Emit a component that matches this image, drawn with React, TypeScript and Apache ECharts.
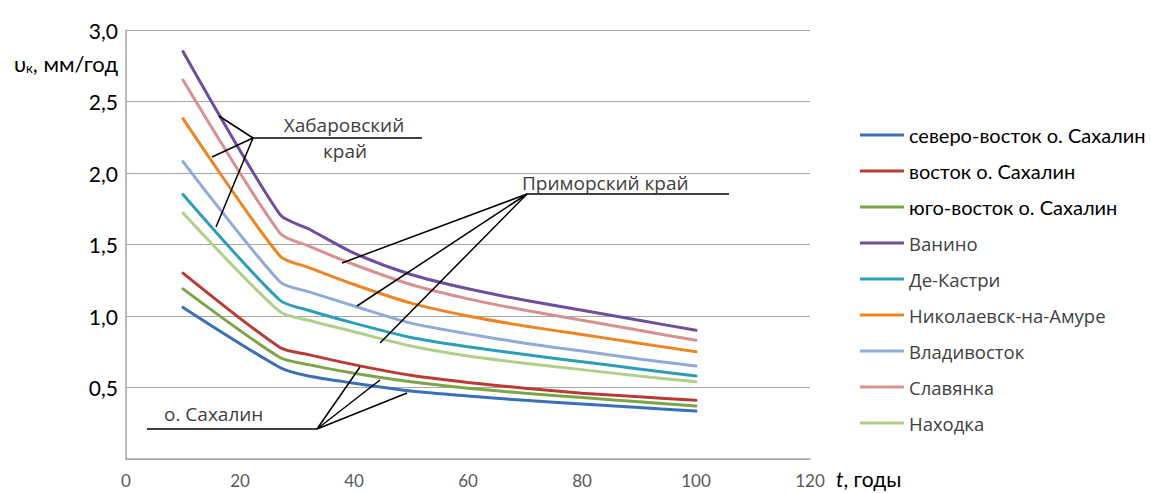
import React, { useEffect, useRef } from "react";
import * as echarts from "echarts";

const years = [10, 27, 32, 40, 50, 60, 70, 80, 90, 100];
const xTicks = [0, 20, 40, 60, 80, 100, 120];

const seriesNames = [
  "северо-восток о. Сахалин",
  "восток о. Сахалин",
  "юго-восток о. Сахалин",
  "Ванино",
  "Де-Кастри",
  "Николаевск-на-Амуре",
  "Владивосток",
  "Славянка",
  "Находка",
];

const severoVostok = [1.06, 0.64, 0.58, 0.53, 0.475, 0.44, 0.41, 0.385, 0.36, 0.335];
const vostok = [1.3, 0.78, 0.73, 0.66, 0.585, 0.535, 0.495, 0.46, 0.435, 0.41];
const yugoVostok = [1.19, 0.71, 0.66, 0.6, 0.54, 0.495, 0.46, 0.43, 0.4, 0.37];
const vanino = [2.85, 1.71, 1.61, 1.44, 1.29, 1.19, 1.11, 1.04, 0.97, 0.9];
const deKastri = [1.85, 1.11, 1.04, 0.95, 0.85, 0.785, 0.73, 0.68, 0.63, 0.58];
const nikolaevsk = [2.38, 1.42, 1.34, 1.22, 1.09, 1.0, 0.93, 0.87, 0.81, 0.75];
const vladivostok = [2.08, 1.24, 1.17, 1.07, 0.95, 0.875, 0.81, 0.755, 0.7, 0.65];
const slavyanka = [2.65, 1.58, 1.49, 1.36, 1.22, 1.12, 1.04, 0.97, 0.9, 0.83];
const nakhodka = [1.72, 1.03, 0.97, 0.89, 0.79, 0.72, 0.67, 0.625, 0.58, 0.54];

const seriesValues = [
  severoVostok,
  vostok,
  yugoVostok,
  vanino,
  deKastri,
  nikolaevsk,
  vladivostok,
  slavyanka,
  nakhodka,
];

const colors = [
  "#3A70B8",
  "#BA3A35",
  "#7BA646",
  "#6F4E9E",
  "#2C9FB6",
  "#EE8422",
  "#8FABD8",
  "#D9918F",
  "#B0D08A",
];

const FONT = "Lato";
const ANN = "Open Sans";

export default function App() {
  const ref = useRef<HTMLDivElement>(null);
  useEffect(() => {
    if (!ref.current) return;
    const chart = echarts.init(ref.current, undefined, { renderer: "svg" });
    const line = (pts: number[][]) => ({
      type: "polyline",
      shape: { points: pts },
      style: { stroke: "#000", lineWidth: 1.5, fill: "none" },
      z: 100,
    });
    const annText = (x: number, y: number, text: string, align = "left") => ({
      type: "text",
      x,
      y,
      style: {
        text,
        fill: "#404040",
        font: `19px "${ANN}"`,
        textAlign: align,
        textVerticalAlign: "middle",
      },
      z: 100,
    });
    const option: any = {
      animation: false,
      backgroundColor: "#fff",
      color: colors,
      grid: { left: 126, right: 341, top: 30, bottom: 34, containLabel: false },
      xAxis: {
        type: "value",
        min: 0,
        max: 120,
        interval: 20,
        axisLine: { show: true, lineStyle: { color: "#A6A6A6", width: 1.5 } },
        axisTick: { show: false },
        splitLine: { show: false },
        axisLabel: {
          margin: 13,
          color: "#595959",
          fontSize: 17,
          fontFamily: FONT,
          formatter: (v: number) => (xTicks.includes(v) ? String(v) : ""),
        },
      },
      yAxis: {
        type: "value",
        min: 0,
        max: 3,
        interval: 0.5,
        axisLine: { show: true, lineStyle: { color: "#A6A6A6", width: 1.5 } },
        axisTick: { show: false },
        splitLine: { show: true, lineStyle: { color: "#A6A6A6", width: 1 } },
        axisLabel: {
          margin: 8,
          color: "#000",
          fontSize: 21,
          fontFamily: FONT,
          formatter: (v: number) => (v === 0 ? "" : v.toFixed(1).replace(".", ",")),
        },
      },
      legend: {
        orient: "vertical",
        left: 855,
        top: 120,
        itemWidth: 44,
        itemHeight: 3,
        itemGap: 16,
        icon: "rect",
        data: seriesNames,
        formatter: (name: string) =>
          seriesNames.indexOf(name) < 3 ? `{a|${name}}` : `{b|${name}}`,
        textStyle: {
          lineHeight: 20,
          rich: {
            a: { fontSize: 20, color: "#000", fontFamily: FONT, lineHeight: 20 },
            b: { fontSize: 18.5, color: "#404040", fontFamily: ANN, lineHeight: 20 },
          },
        },
      },
      series: seriesNames.map((name, i) => ({
        name,
        type: "line",
        data: years.map((t, j) => [t, seriesValues[i][j]]),
        smooth: 0.25,
        symbol: "none",
        lineStyle: { width: 3, color: colors[i], cap: "round" },
        itemStyle: { color: colors[i] },
        z: 2,
      })),
      graphic: [
        {
          type: "text",
          right: 1151 - 118,
          top: 52,
          style: {
            text: "υ{s|к}, мм/год",
            font: `22px "${FONT}"`,
            fill: "#000",
            rich: {
              s: { fontSize: 13, fontFamily: FONT, fill: "#000", padding: [9, 0, 0, 0] },
            },
          },
        },
        {
          type: "text",
          left: 836,
          top: 468,
          style: {
            text: "{i|t}, годы",
            font: `21px "${FONT}"`,
            fill: "#000",
            rich: { i: { fontStyle: "italic", fontSize: 21, fontFamily: FONT, fill: "#000" } },
          },
        },
        // Хабаровский край
        line([[253, 138], [422, 138]]),
        line([[219, 116], [253, 138]]),
        line([[212, 157], [253, 138]]),
        line([[216, 227], [253, 138]]),
        annText(344, 125, "Хабаровский", "center"),
        annText(345, 151, "край", "center"),
        // Приморский край
        line([[527, 194], [729, 194]]),
        line([[342, 263], [527, 194]]),
        line([[357, 306], [527, 194]]),
        line([[380, 343], [527, 194]]),
        annText(522, 183, "Приморский край"),
        // о. Сахалин
        line([[147, 429], [317, 429]]),
        line([[360, 367], [317, 429]]),
        line([[380, 380], [317, 429]]),
        line([[407, 393], [317, 429]]),
        annText(164, 414, "о. Сахалин"),
      ],
    };
    chart.setOption(option);
    return () => chart.dispose();
  }, []);
  return (
    <div
      ref={ref}
      style={{ position: "fixed", left: 0, top: 0, width: 1151, height: 493, background: "#fff" }}
    />
  );
}
